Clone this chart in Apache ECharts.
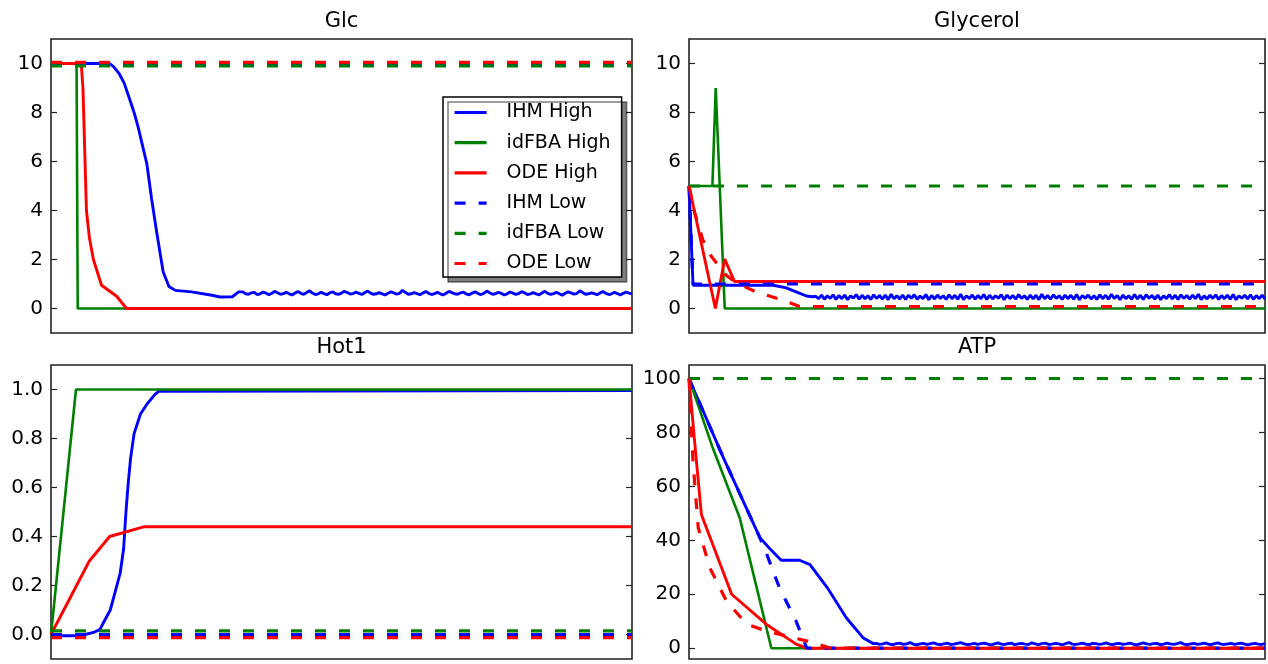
<!DOCTYPE html>
<html><head><meta charset="utf-8">
<script src="https://cdn.jsdelivr.net/npm/echarts@6/dist/echarts.min.js"></script>
<style>html,body{margin:0;padding:0;background:#fff}#c{width:1268px;height:664px}</style>
</head><body><div id="c"></div>
<script>
// ---------- data ----------
const seriesNames = ['IHM High','idFBA High','ODE High','IHM Low','idFBA Low','ODE Low'];
const panelTitles = ['Glc','Glycerol','Hot1','ATP'];

const glcTicks = [0,2,4,6,8,10];
const glyTicks = [0,2,4,6,8,10];
const hotTicks = [0,0.2,0.4,0.6,0.8,1.0];
const atpTicks = [0,20,40,60,80,100];

// Glc
const glcIHMHighHead = [[0,10],[10.1,10],[10.8,9.86],[11.7,9.6],[12.6,9.2],[13.6,8.5],[14.3,8.0],[15.0,7.4],[15.6,6.8],[16.5,5.9],[17.3,4.5],[18.2,3.1],[19.3,1.5],[20.3,0.9],[21.4,0.74],[24.2,0.68],[27.7,0.54],[29.1,0.47],[31.2,0.48],[32.3,0.68]];
const glcIHMHighTailStart = 33;
const glcIHMHighTail = [0.68,0.6,0.58,0.64,0.66,0.57,0.6,0.67,0.63,0.56,0.62,0.7,0.64,0.58,0.61,0.66,0.6,0.55,0.63,0.69,0.62,0.58,0.65,0.72,0.63,0.57,0.6,0.66,0.61,0.56,0.64,0.68,0.6,0.58,0.63,0.7,0.65,0.59,0.61,0.67,0.62,0.57,0.64,0.71,0.63,0.58,0.6,0.65,0.6,0.55,0.62,0.68,0.64,0.59,0.62,0.74,0.66,0.58,0.6,0.65,0.61,0.56,0.63,0.69,0.62,0.57,0.61,0.66,0.6,0.55,0.62,0.7,0.65,0.6,0.58,0.64,0.67,0.59,0.56,0.63,0.68,0.61,0.57,0.62,0.71,0.64,0.58,0.6,0.66,0.62,0.55,0.6,0.67,0.63,0.58,0.61,0.69,0.64,0.57,0.6,0.65,0.6,0.56,0.63,0.7,0.62,0.58,0.61,0.66,0.6,0.54,0.62,0.68,0.64,0.59,0.61,0.72,0.65,0.58,0.6,0.64,0.61,0.56,0.63,0.69,0.62,0.57,0.6,0.66,0.61,0.55,0.62,0.67,0.63,0.6];
const glcIdFBAHigh = [[0,10],[4.4,10],[4.6,0],[100,0]];
const glcODEHigh = [[0,10],[5.2,10],[5.5,9.0],[5.8,6.5],[6.1,4.0],[6.6,2.9],[7.3,2.0],[8.7,0.95],[11.3,0.5],[13,0],[100,0]];
const glcIHMLow = [[0,10],[100,10]];
const glcIdFBALow = [[0,9.9],[100,9.9]];
const glcODELow = [[0,10.05],[100,10.05]];

// Glycerol
const glyIHMHighHead = [[0,5],[0.7,0.95],[14.6,0.95],[16.9,0.84],[18.7,0.67],[20.4,0.51],[21.5,0.48]];
const glyIHMHighTailStart = 22;
const glyIHMHighTail = [0.5,0.4,0.55,0.38,0.52,0.41,0.56,0.37,0.53,0.4,0.55,0.36,0.51,0.42,0.57,0.38,0.54,0.4,0.52,0.37,0.56,0.41,0.53,0.38,0.55,0.36,0.58,0.4,0.52,0.39,0.55,0.37,0.54,0.42,0.56,0.38,0.51,0.4,0.57,0.36,0.53,0.39,0.55,0.41,0.52,0.37,0.56,0.4,0.54,0.38,0.58,0.36,0.52,0.41,0.55,0.38,0.53,0.4,0.57,0.37,0.54,0.39,0.52,0.42,0.56,0.36,0.55,0.4,0.53,0.38,0.57,0.41,0.52,0.37,0.55,0.39,0.54,0.36,0.58,0.4,0.53,0.38,0.56,0.41,0.52,0.37,0.55,0.4,0.54,0.38,0.57,0.36,0.53,0.42,0.55,0.39,0.52,0.37,0.56,0.4,0.54,0.38,0.58,0.41,0.53,0.36,0.55,0.4,0.52,0.38,0.57,0.39,0.54,0.37,0.56,0.42,0.53,0.38,0.55,0.36,0.52,0.4,0.57,0.39,0.54,0.37,0.56,0.41,0.53,0.38,0.55,0.4,0.58,0.36,0.52,0.39,0.54,0.41,0.56,0.37,0.53,0.4,0.55,0.38,0.57,0.36,0.52,0.42,0.54,0.39,0.56,0.37,0.53,0.4,0.55,0.38];
const glyIdFBAHigh = [[0,5],[4.06,5],[4.64,9],[6.2,0],[100,0]];
const glyODEHigh = [[0,5],[4.58,0],[6.2,2.02],[7.9,1.1],[100,1.1]];
const glyIHMLow = [[0,5],[0.7,1.0],[100,1.0]];
const glyIdFBALow = [[0,5],[100,5]];
const glyODELow = [[0,5],[1,3.9],[2.4,2.8],[3.8,2.15],[5.3,1.7],[6.5,1.35],[8.2,1.05],[11.7,0.67],[15.8,0.38],[19.2,0.08],[100,0.08]];

// Hot1
const hotIHMHigh = [[0,-0.005],[5,-0.005],[7.5,0.01],[8.4,0.02],[9.3,0.06],[10.2,0.1],[11,0.17],[11.9,0.25],[12.5,0.35],[12.9,0.5],[13.3,0.62],[13.7,0.72],[14.3,0.82],[15.4,0.9],[16.5,0.94],[17.9,0.98],[18.6,0.993],[100,0.996]];
const hotIdFBAHigh = [[0,0],[4.3,1.0],[100,1.0]];
const hotODEHigh = [[0,0],[6.6,0.3],[10.1,0.4],[16.1,0.44],[100,0.44]];
const hotIHMLow = [[0,0],[100,0]];
const hotIdFBALow = [[0,0.015],[100,0.015]];
const hotODELow = [[0,-0.013],[100,-0.013]];

// ATP
const atpIHMHighHead = [[0,100],[6,70.5],[12.3,41],[14,37],[16,32.6],[19.2,32.6],[21,31],[24,22.5],[27.3,11.3],[30.2,3.9],[32,1.7]];
const atpIHMHighTailStart = 32.5;
const atpIHMHighTail = [1.8,1.4,1.6,2.0,1.5,1.3,1.7,1.9,1.4,1.6,2.1,1.5,1.2,1.6,1.8,1.4,1.7,2.0,1.5,1.3,1.6,1.9,1.4,1.5,1.8,2.1,1.6,1.3,1.5,1.8,1.4,1.7,1.9,1.5,1.2,1.6,2.0,1.5,1.4,1.7,1.9,1.3,1.6,1.8,1.5,1.4,2.0,1.6,1.3,1.7,1.9,1.4,1.5,1.8,1.6,1.2,1.7,2.1,1.5,1.4,1.6,1.9,1.5,1.3,1.8,1.7,1.4,1.6,2.0,1.5,1.3,1.7,1.8,1.4,1.6,1.9,1.5,1.2,1.6,2.0,1.6,1.4,1.7,1.8,1.3,1.5,1.9,1.6,1.4,1.7,2.1,1.5,1.3,1.6,1.8,1.4,1.6,1.9,1.5,1.3,1.7,2.0,1.5,1.4,1.6,1.8,1.4,1.7,1.9,1.5,1.2,1.6,1.8,1.5,1.4,1.7];
const atpIdFBAHigh = [[0,100],[4,75],[8.8,48.4],[14.3,0],[100,0]];
const atpODEHigh = [[0,100],[1,76],[2.15,49.6],[7.4,20],[13.4,8.9],[18.6,1.5],[20.4,0],[100,0]];
const atpIHMLow = [[0,100],[6,70.5],[12.3,41],[13.4,35.4],[15.7,22.4],[18.6,10],[20.4,0.2],[21,0],[100,0]];
const atpIdFBALow = [[0,100],[100,100]];
const atpODELow = [[0,100],[0.7,69],[1.6,44.7],[3.6,29.9],[6.5,17.5],[10,8.9],[13.4,6.4],[18.1,3.9],[20.4,2.7],[23.3,0.9],[24.5,0],[100,0]];

// ---------- build ----------
function withTail(head, start, tail, end) {
  const step = (end - start) / (tail.length - 1);
  return head.concat(tail.map((v, i) => [start + i * step, v]));
}
const T_END = 100;
const glcIHMHigh = withTail(glcIHMHighHead, glcIHMHighTailStart, glcIHMHighTail, T_END);
const glyIHMHigh = withTail(glyIHMHighHead, glyIHMHighTailStart, glyIHMHighTail, T_END);
const atpIHMHigh = withTail(atpIHMHighHead, atpIHMHighTailStart, atpIHMHighTail, T_END);

const panels = [
  {data:[glcIHMHigh,glcIdFBAHigh,glcODEHigh,glcIHMLow,glcIdFBALow,glcODELow], min:-1, max:11, ticks:glcTicks, dec:0},
  {data:[glyIHMHigh,glyIdFBAHigh,glyODEHigh,glyIHMLow,glyIdFBALow,glyODELow], min:-1, max:11, ticks:glyTicks, dec:0},
  {data:[hotIHMHigh,hotIdFBAHigh,hotODEHigh,hotIHMLow,hotIdFBALow,hotODELow], min:-0.1, max:1.1, ticks:hotTicks, dec:1},
  {data:[atpIHMHigh,atpIdFBAHigh,atpODEHigh,atpIHMLow,atpIdFBALow,atpODELow], min:-4, max:105, ticks:atpTicks, dec:0}
];
const gridBoxes = [
  {left:51, top:39, width:581, height:294},
  {left:689, top:39, width:576, height:294},
  {left:51, top:365, width:581, height:294},
  {left:689, top:365, width:576, height:294}
];
const colors = ['#0000ff','#008000','#ff0000','#0000ff','#008000','#ff0000'];
const FONT = 'DejaVu Sans';

const grids = [], xAxes = [], yAxes = [], series = [], titles = [];
panels.forEach((p, gi) => {
  const g = gridBoxes[gi];
  grids.push(Object.assign({show:true, borderColor:'#222', borderWidth:1.6, backgroundColor:'#fff', containLabel:false}, g));
  xAxes.push({type:'value', gridIndex:gi, min:0, max:T_END, axisLine:{show:false}, axisTick:{show:false}, axisLabel:{show:false}, splitLine:{show:false}});
  const yBase = {type:'value', gridIndex:gi, min:p.min, max:p.max, splitLine:{show:false}, axisLine:{show:false},
    axisTick:{show:true, inside:true, length:6, lineStyle:{color:'#222', width:1.2}, customValues:p.ticks}};
  yAxes.push(Object.assign({}, yBase, {position:'left',
    axisLabel:{show:true, customValues:p.ticks, margin:8, color:'#000', fontSize:20, fontFamily:FONT,
      formatter: v => Number(v).toFixed(p.dec)}}));
  yAxes.push(Object.assign({}, yBase, {position:'right', axisLabel:{show:false}}));
  titles.push({text:panelTitles[gi], left:g.left + g.width/2, top: gi < 2 ? 11 : 337, textAlign:'center', padding:0,
    textStyle:{fontSize:21, fontWeight:'normal', color:'#000', fontFamily:FONT}});
  p.data.forEach((d, si) => {
    const dashed = si >= 3;
    series.push({type:'line', name:seriesNames[si], xAxisIndex:gi, yAxisIndex:gi*2, data:d,
      symbol:'none', showSymbol:false, animation:false, silent:true, color:colors[si],
      lineStyle:{color:colors[si], width: dashed ? 3.2 : (si===1 ? 2.6 : 2.9), type: dashed ? [11,13] : 'solid'}});
  });
});

const chart = echarts.init(document.getElementById('c'), null, {renderer:'canvas'});
chart.setOption({
  animation:false,
  backgroundColor:'#fff',
  textStyle:{fontFamily:FONT},
  title:titles,
  grid:grids, xAxis:xAxes, yAxis:yAxes, series:series,
  legend:{data:seriesNames, orient:'vertical', left:443, top:97, itemWidth:32, itemHeight:14, itemGap:11.2,
    padding:[6,11,4,10], backgroundColor:'#fff', borderColor:'#000', borderWidth:1.5, borderRadius:0,
    shadowColor:'rgba(0,0,0,0.5)', shadowBlur:0, shadowOffsetX:5, shadowOffsetY:5,
    selectedMode:false, itemStyle:{opacity:0},
    lineStyle:{width:3.2},
    textStyle:{fontSize:19, color:'#000', fontFamily:FONT, padding:[0,0,0,15]}}
});
</script></body></html>
